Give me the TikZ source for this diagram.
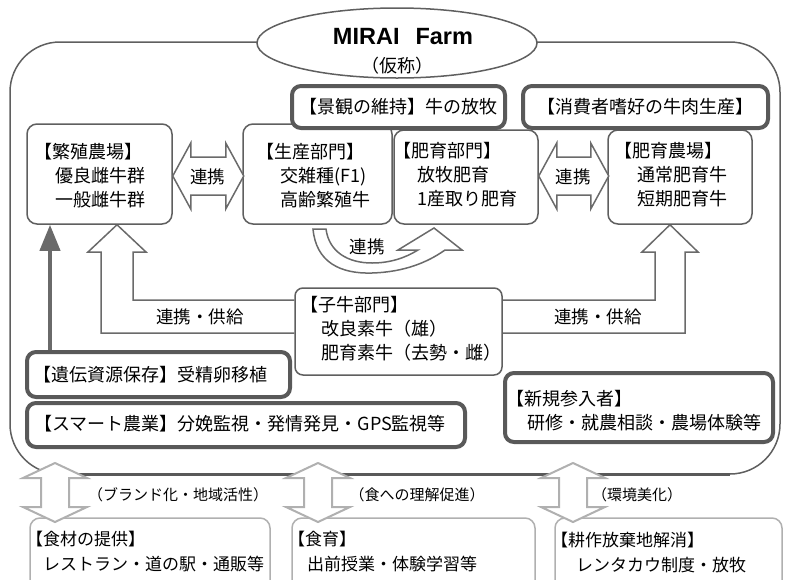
\documentclass[tikz,border=0pt]{standalone}
\usepackage{fontspec}
\setmainfont{Noto Sans CJK JP}
\newfontfamily\latinbold{Liberation Sans}
\usetikzlibrary{arrows.meta,shapes.geometric}
\pgfdeclarelayer{back}
\pgfsetlayers{back,main}
\definecolor{framegray}{HTML}{5F5F5F}
\definecolor{thickgray}{HTML}{595959}
\definecolor{arrowgray}{HTML}{6A6A6A}
\definecolor{lightgray2}{HTML}{B0B0B0}
\begin{document}
\begin{tikzpicture}[x=1pt,y=-1pt,
  thinbox/.style={draw=framegray, line width=1.5pt, fill=white, rounded corners=10pt, inner sep=0pt},
  thickbox/.style={draw=thickgray, line width=4pt, fill=white, rounded corners=9pt, inner sep=0pt},
  lightbox/.style={draw=lightgray2, line width=1.5pt, fill=white, rounded corners=10pt, inner sep=0pt},
  txt/.style={inner sep=0pt, align=left, font=\fontsize{18}{24}\selectfont},
  btxt/.style={inner sep=0pt, align=left, font=\fontsize{17}{25}\selectfont},
  lbl/.style={inner sep=0pt, font=\fontsize{15}{18}\selectfont},
  albl/.style={inner sep=0pt, font=\fontsize{17.5}{20}\selectfont},
  blockarrow/.style={draw=arrowgray, line width=1.5pt, fill=white, line join=miter},
  lightarrow/.style={draw=lightgray2, line width=2pt, fill=white, line join=miter},
]
\useasboundingbox (0,0) rectangle (785,579);
\clip (0,0) rectangle (785,579);

% outer frame
\draw[draw=framegray, line width=1.5pt, rounded corners=50pt] (10,42) rectangle (780,474);
\draw[draw=thickgray, line width=3pt] (60,474) -- (730,474);

% title ellipse
\node[ellipse, draw=framegray, line width=1.5pt, fill=white, minimum width=280pt, minimum height=70pt, inner sep=0pt] (farm) at (397,43) {};
\node[inner sep=0pt, font=\latinbold\bfseries\fontsize{23.5}{26}\selectfont] (farmname) at (403,36.5) {MIRAI\hspace{16pt}Farm};
\node[inner sep=0pt, font=\fontsize{18}{20}\selectfont] (farmnote) at (397,66) {（仮称）};

% middle row boxes
\node[thinbox, minimum width=145pt, minimum height=100pt] (hanshoku) at (99.5,174) {};
\node[txt, anchor=west] (hanshokuT) at (34,176) {【繁殖農場】\\\hspace*{21pt}優良雌牛群\\\hspace*{21pt}一般雌牛群};

\node[thinbox, minimum width=149pt, minimum height=100pt] (seisan) at (317.5,174) {};
\node[txt, anchor=west] (seisanT) at (256,176) {【生産部門】\\\hspace*{24pt}交雑種(F1)\\\hspace*{24pt}高齢繁殖牛};

\node[thinbox, minimum width=144pt, minimum height=94pt] (hiikubu) at (466,177) {};
\node[txt, anchor=west] (hiikubuT) at (393,175) {【肥育部門】\\\hspace*{24pt}放牧肥育\\\hspace*{24pt}1産取り肥育};

\node[thinbox, minimum width=144pt, minimum height=94pt] (hiikunojo) at (680,177) {};
\node[txt, anchor=west] (hiikunojoT) at (614,175) {【肥育農場】\\\hspace*{23pt}通常肥育牛\\\hspace*{23pt}短期肥育牛};

% top thick boxes
\node[thickbox, minimum width=213pt, minimum height=42pt] (keikan) at (398.5,107) {};
\node[txt] (keikanT) at (398.5,107) {【景観の維持】牛の放牧};
\node[thickbox, minimum width=245pt, minimum height=42pt] (shohi) at (645.5,107) {};
\node[txt] (shohiT) at (645.5,107) {【消費者嗜好の牛肉生産】};

% calf box
\node[thinbox, minimum width=207pt, minimum height=87pt, rounded corners=8pt] (koushi) at (398.5,331.5) {};
\node[txt, anchor=west] (koushiT) at (300,329) {【子牛部門】\\\hspace*{21pt}改良素牛（雄）\\\hspace*{21pt}肥育素牛（去勢・雌）};

% L-shaped supply arrows
\begin{pgfonlayer}{back}
\draw[blockarrow] (koushi.west |- 0,300) -- (133,300) -- (133,252) -- (146,252) -- (hanshoku.south -| 117,0) -- (88,252) -- (101,252) -- (101,333) -- (koushi.west |- 0,333);
\draw[blockarrow] (koushi.east |- 0,300) -- (655,300) -- (655,252) -- (642,252) -- (hiikunojo.south -| 670,0) -- (698,252) -- (685,252) -- (685,333) -- (koushi.east |- 0,333);
\end{pgfonlayer}
\node[albl] (supplyL) at (200,317) {連携・供給};
\node[albl] (supplyR) at (598,317) {連携・供給};

% lower thick boxes
\node[thickbox, minimum width=263pt, minimum height=45pt] (iden) at (158.5,374.5) {};
\node[txt, anchor=west] (idenT) at (33,375) {【遺伝資源保存】受精卵移植};
\node[thickbox, minimum width=438pt, minimum height=44pt] (smart) at (246,425) {};
\node[txt, anchor=west] (smartT) at (34,424) {【スマート農業】分娩監視・発情発見・GPS監視等};
\node[thickbox, minimum width=268pt, minimum height=69pt] (shinki) at (639,407.5) {};
\node[txt, anchor=west] (shinkiT) at (506,411) {【新規参入者】\\\hspace*{21pt}研修・就農相談・農場体験等};

% horizontal double arrows
\draw[blockarrow] (hanshoku.east |- 0,176) -- ++(18,-33) -- ++(0,14) -- ++(35,0) -- ++(0,-14) -- ++(18,33) -- ++(-18,33) -- ++(0,-14) -- ++(-35,0) -- ++(0,14) -- cycle;
\node[albl] (renkeiL) at (207.5,177) {連携};
\draw[blockarrow] (hiikubu.east |- 0,176) -- ++(18,-33) -- ++(0,14) -- ++(34,0) -- ++(0,-14) -- ++(18,33) -- ++(-18,33) -- ++(0,-14) -- ++(-34,0) -- ++(0,14) -- cycle;
\node[albl] (renkeiR) at (573,177) {連携};

% curved arrow
\coordinate (ctail) at (313,229);
\draw[blockarrow] (ctail) .. controls (316,262) and (340,274) .. (372,273)
  .. controls (405,272) and (428,262) .. (445,250)
  -- (462,250) -- (434,228) -- (398,250) -- (418,250)
  .. controls (405,258) and (390,263) .. (372,263)
  .. controls (348,263) and (329,252) .. (326,229) -- cycle;
\node[albl] (renkeiC) at (367,247) {連携};

% genetic resources arrow
\draw[line width=4pt, draw=arrowgray, -{Triangle[length=26pt,width=20pt]}] (iden.north -| 50,0) -- (hanshoku.south -| 50,0);

% bottom boxes
\node[lightbox, minimum width=240pt, minimum height=80pt] (shokuzai) at (150,558) {};
\node[btxt, anchor=west] (shokuzaiT) at (26,552) {【食材の提供】\\\hspace*{17pt}レストラン・道の駅・通販等};
\node[lightbox, minimum width=243pt, minimum height=80pt] (shokuiku) at (413.5,558) {};
\node[btxt, anchor=west] (shokuikuT) at (288,552) {【食育】\\\hspace*{19pt}出前授業・体験学習等};
\node[lightbox, minimum width=227pt, minimum height=80pt] (kousaku) at (668.5,558) {};
\node[btxt, anchor=west] (kousakuT) at (551,552) {【耕作放棄地解消】\\\hspace*{25pt}レンタカウ制度・放牧};

% bottom double arrows
\foreach \cx/\nm in {55/bA, 318/bB, 573/bC} {
  \coordinate (\nm) at (\cx,463);
  \draw[lightarrow] (\nm) -- ++(32,15) -- ++(-18,0) -- ++(0,29) -- ++(18,0) -- ++(-32,15) -- ++(-32,-15) -- ++(18,0) -- ++(0,-29) -- ++(-18,0) -- cycle;
}
\node[lbl] (lab1) at (178,495) {（ブランド化・地域活性）};
\node[lbl] (lab2) at (417,495) {（食への理解促進）};
\node[lbl] (lab3) at (637,495) {（環境美化）};
\end{tikzpicture}
\end{document}
